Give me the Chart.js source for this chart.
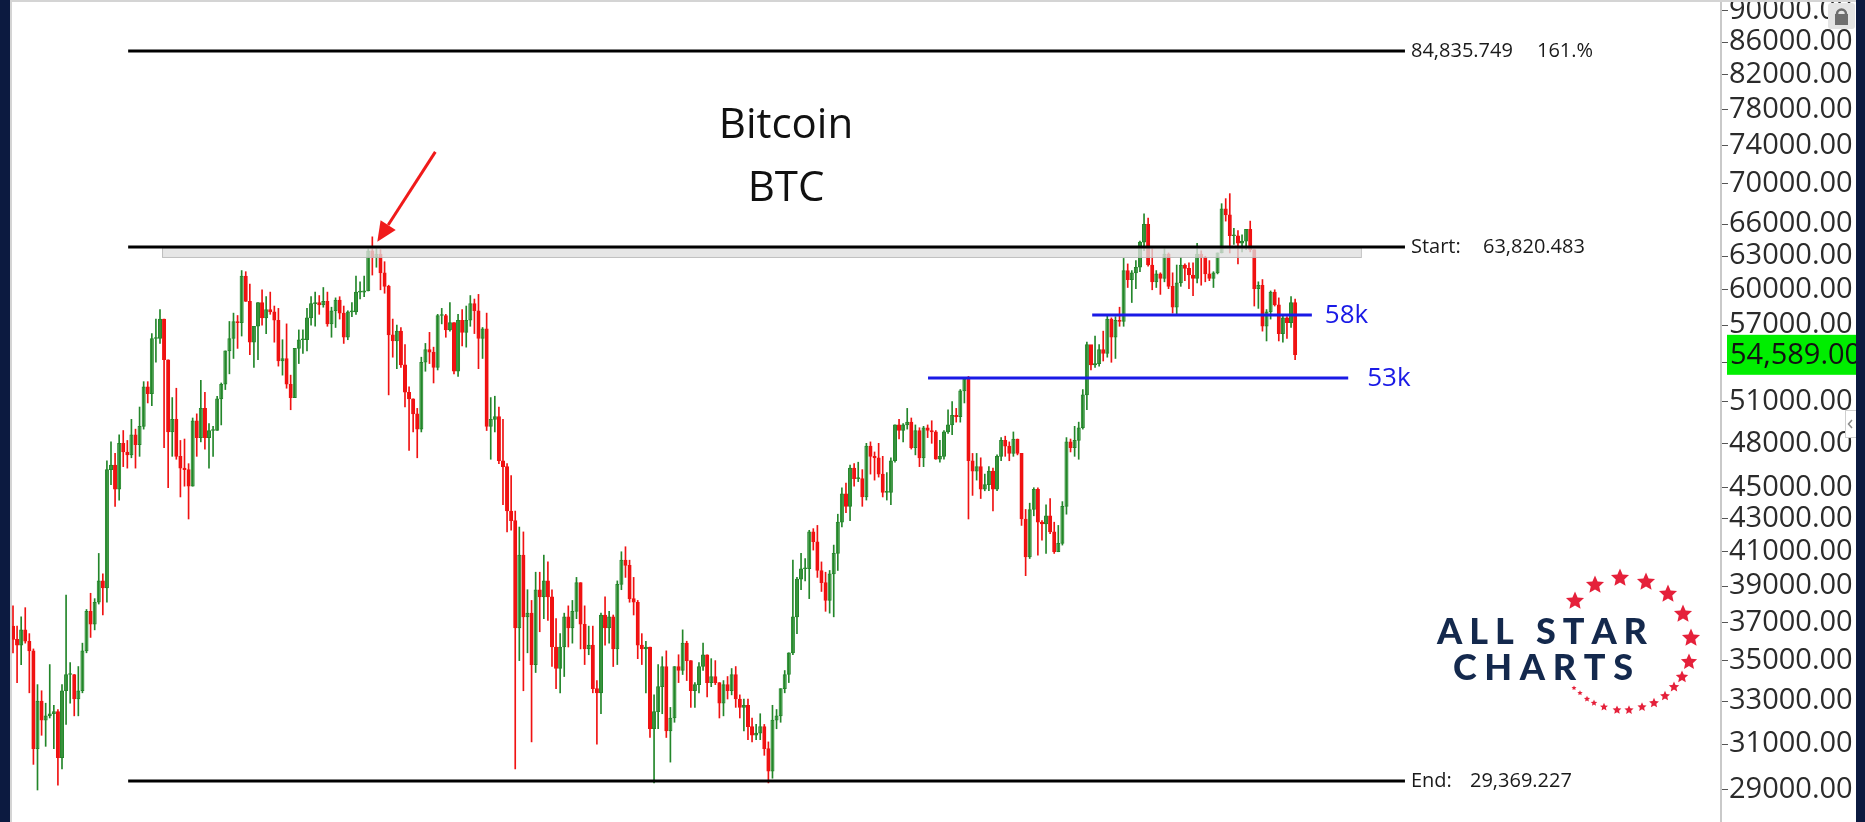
<!DOCTYPE html>
<html>
<head>
<meta charset="utf-8">
<title>Bitcoin BTC</title>
<script src="https://cdn.jsdelivr.net/npm/chart.js@4.4.1/dist/chart.umd.min.js"></script>
<style>
  html, body { margin: 0; padding: 0; background: #fff; overflow: hidden; }
  canvas { display: block; }
</style>
</head>
<body>
<canvas id="btcChart" width="1865" height="822"></canvas>
<script>
// Daily BTC candles, 16 Jan 2021 -> 26 Nov 2021, prices in $ thousands
// (crypto trades 24/7 so each day opens at the previous close)
const firstDate = '2021-01-16';
const firstOpen = 36.8;

const closes = [
    // Jan
    36.1, 35.8, 36.6, 36.0, 35.5, 30.8, 33.0, 32.1, 32.3, 32.4, 32.5, 30.4, 33.5, 34.3, 34.3, 33.1,
    // Feb
    33.5, 35.5, 37.6, 36.9, 38.1, 39.3, 38.9, 46.2, 46.5, 44.9, 48.0, 47.4, 47.2, 48.6, 47.9, 49.2,
    52.1, 51.6, 55.9, 55.9, 57.5, 54.2, 48.8, 49.7, 47.1, 46.3, 46.2, 45.1,
    // Mar
    49.6, 48.4, 50.5, 48.4, 48.9, 48.9, 51.2, 52.3, 54.9, 55.9, 57.3, 57.2, 61.2, 59.0, 55.6, 56.9,
    58.9, 57.6, 58.3, 58.1, 57.4, 54.1, 54.3, 52.3, 51.3, 55.1, 55.8, 55.8, 57.6, 58.8, 58.9,
    // Apr
    58.7, 59.0, 57.1, 58.2, 59.1, 58.0, 56.0, 58.1, 58.1, 59.8, 59.8, 59.9, 63.5, 62.9, 63.2, 61.5,
    60.3, 56.2, 55.7, 56.5, 53.8, 51.7, 51.2, 50.1, 49.0, 54.0, 55.0, 54.8, 53.6, 57.8,
    // May
    57.8, 56.6, 57.2, 53.3, 57.4, 56.4, 57.4, 58.8, 58.2, 55.9, 56.7, 49.2, 49.7, 49.9, 46.8, 46.4,
    43.5, 42.9, 36.7, 40.8, 37.3, 37.5, 34.8, 38.8, 38.4, 39.3, 38.4, 35.7, 34.6, 35.7, 37.3,
    // Jun
    36.7, 37.6, 39.2, 36.9, 35.6, 35.8, 33.6, 33.4, 37.4, 36.7, 37.3, 35.6, 39.1, 40.5, 40.2, 38.3,
    38.1, 35.8, 35.6, 35.7, 31.7, 32.5, 33.7, 34.7, 31.6, 32.2, 34.7, 34.5, 35.9, 35.0,
    // Jul
    33.5, 33.8, 34.7, 35.3, 33.9, 34.2, 33.9, 32.9, 33.8, 33.5, 34.3, 33.1, 32.7, 32.8, 31.8, 31.4,
    31.5, 31.8, 30.8, 29.8, 32.1, 32.3, 33.6, 34.3, 35.4, 37.3, 39.4, 40.0, 40.0, 42.2, 41.6,
    // Aug
    39.9, 39.2, 38.2, 39.7, 40.9, 42.8, 44.6, 43.8, 46.3, 45.6, 45.6, 44.4, 47.8, 47.1, 47.0, 45.9,
    44.7, 44.7, 46.8, 49.3, 48.9, 49.3, 49.5, 47.7, 48.9, 47.0, 49.1, 48.9, 48.8, 46.9, 47.1,
    // Sep
    48.8, 49.3, 50.0, 49.9, 51.8, 52.7, 46.8, 46.1, 46.4, 44.9, 45.2, 46.1, 44.9, 47.1, 48.2, 47.8,
    47.3, 48.3, 47.3, 43.0, 40.7, 43.6, 44.9, 42.8, 42.7, 43.2, 42.2, 41.0, 41.5, 43.8,
    // Oct
    48.1, 47.7, 48.2, 49.1, 51.5, 55.4, 53.8, 53.9, 55.0, 54.7, 57.5, 56.0, 57.4, 57.3, 61.7, 60.9,
    61.5, 62.0, 64.3, 66.0, 62.2, 60.7, 61.4, 61.0, 63.2, 60.3, 58.5, 60.6, 62.2, 61.9, 61.3,
    // Nov
    61.0, 63.2, 62.9, 61.4, 61.0, 61.5, 63.3, 67.5, 66.9, 64.9, 64.9, 64.2, 64.4, 65.5, 63.6, 60.1,
    60.4, 56.9, 58.1, 59.8, 58.7, 56.3, 57.6, 57.2, 58.9, 54.6
];

const highs = [
    37.9, 36.8, 37.3, 37.8, 36.4, 35.6, 33.8, 33.5, 32.9, 34.8, 32.8, 32.6, 33.8, 38.5, 34.9, 34.3,
    34.7, 35.9, 37.7, 38.6, 38.3, 40.9, 39.7, 46.8, 48.1, 47.3, 48.6, 48.9, 48.2, 49.7, 49.0, 50.6,
    52.5, 52.5, 56.3, 57.5, 58.3, 57.5, 54.2, 51.3, 52.0, 48.2, 48.3, 46.6,
    49.8, 50.1, 52.6, 51.7, 49.4, 49.2, 51.4, 52.4, 54.9, 57.3, 58.0, 57.8, 61.7, 61.6, 60.5, 56.9,
    58.9, 60.0, 59.4, 59.8, 58.6, 58.4, 55.8, 57.1, 53.0, 55.1, 56.6, 56.6, 58.4, 59.4, 59.8,
    59.5, 60.2, 59.8, 58.5, 59.3, 59.4, 58.6, 58.2, 58.9, 61.2, 60.7, 61.2, 63.7, 64.8, 63.8, 63.6,
    62.5, 60.4, 57.5, 57.0, 56.8, 55.4, 52.1, 51.2, 50.5, 54.4, 55.5, 56.4, 55.2, 57.9,
    58.4, 57.9, 58.9, 57.2, 57.9, 58.3, 58.6, 59.5, 59.2, 59.6, 56.8, 58.0, 51.3, 51.4, 50.6, 49.7,
    46.6, 45.8, 43.5, 42.5, 42.2, 38.8, 38.2, 39.8, 39.8, 40.8, 40.4, 38.8, 37.2, 36.4, 37.5,
    37.9, 38.2, 39.5, 39.2, 37.9, 36.8, 36.8, 34.0, 37.5, 38.4, 37.6, 37.4, 39.3, 41.0, 41.3, 40.5,
    39.5, 38.2, 36.4, 36.0, 35.7, 33.3, 34.8, 35.2, 35.5, 32.7, 34.7, 35.3, 36.6, 36.0,
    35.0, 33.9, 34.9, 35.9, 35.3, 35.1, 35.0, 33.9, 34.0, 34.2, 34.6, 34.7, 33.3, 33.1, 33.1, 32.2,
    31.9, 32.4, 31.9, 31.1, 32.8, 32.6, 33.6, 34.5, 35.4, 40.5, 39.5, 40.9, 40.6, 42.3, 42.4,
    42.6, 40.4, 39.8, 39.9, 41.4, 43.3, 45.0, 45.3, 46.5, 46.6, 46.7, 46.2, 48.0, 48.1, 47.4, 48.0,
    47.1, 46.0, 47.0, 49.3, 49.7, 49.4, 50.5, 49.8, 49.3, 49.1, 49.2, 49.3, 49.6, 48.9, 48.2,
    48.9, 50.4, 51.0, 50.5, 51.9, 52.8, 52.9, 47.3, 47.3, 47.0, 45.9, 46.4, 46.3, 47.2, 48.4, 48.5,
    48.1, 48.8, 48.3, 47.3, 43.6, 44.0, 45.0, 45.0, 42.9, 43.9, 44.3, 42.8, 42.6, 44.1,
    48.4, 48.3, 49.2, 49.5, 51.9, 55.6, 55.3, 56.1, 55.4, 56.5, 57.8, 57.6, 57.7, 58.5, 62.8, 62.3,
    61.7, 62.6, 64.4, 67.0, 66.6, 63.7, 61.7, 61.5, 63.7, 63.3, 61.5, 62.2, 62.9, 62.3, 62.4,
    62.4, 64.2, 63.5, 63.0, 62.6, 61.6, 63.3, 68.0, 68.5, 69.0, 65.6, 65.4, 65.0, 65.5, 66.3, 63.6,
    60.7, 60.9, 58.3, 59.9, 60.0, 59.3, 57.8, 57.7, 59.4, 59.2
];

const lows = [
    35.4, 33.9, 34.8, 35.9, 33.4, 30.1, 29.0, 31.4, 30.9, 32.2, 30.8, 29.2, 29.9, 31.9, 32.9, 32.3,
    32.3, 33.4, 35.4, 36.2, 36.6, 38.0, 37.4, 38.1, 45.2, 43.8, 44.2, 46.4, 46.3, 47.0, 46.3, 47.1,
    49.0, 50.9, 50.7, 54.0, 55.5, 47.7, 45.0, 47.1, 46.9, 44.4, 45.1, 43.0,
    45.1, 47.1, 48.1, 47.6, 46.3, 47.1, 48.9, 49.3, 51.9, 53.1, 54.3, 55.1, 56.1, 59.0, 54.6, 53.6,
    54.2, 57.0, 56.3, 57.9, 55.6, 53.7, 53.0, 52.0, 50.4, 51.3, 53.9, 54.7, 54.9, 57.0, 56.9,
    57.9, 58.5, 56.9, 56.0, 56.8, 57.5, 55.5, 55.8, 57.7, 57.9, 59.2, 59.4, 59.9, 61.3, 62.0, 60.0,
    59.7, 51.5, 54.4, 53.5, 53.6, 50.6, 47.5, 48.8, 47.0, 48.8, 53.3, 53.9, 52.4, 53.4,
    57.1, 56.0, 56.5, 53.1, 52.9, 55.3, 55.2, 56.9, 56.3, 53.5, 54.3, 48.9, 46.9, 48.8, 46.6, 43.9,
    42.2, 42.3, 29.9, 35.0, 33.5, 35.4, 31.1, 34.4, 36.5, 37.2, 37.1, 34.7, 33.6, 33.4, 34.2,
    35.7, 35.9, 37.2, 35.6, 34.8, 35.3, 33.4, 31.0, 32.4, 35.8, 35.9, 34.7, 34.8, 38.8, 39.5, 38.1,
    37.4, 35.1, 34.8, 33.4, 31.3, 29.3, 31.7, 32.4, 31.3, 30.2, 32.0, 33.9, 34.3, 34.0,
    32.7, 32.7, 33.4, 34.5, 33.2, 33.7, 33.8, 32.2, 32.3, 33.1, 33.3, 32.7, 32.2, 31.6, 31.2, 31.1,
    31.2, 31.2, 30.5, 29.3, 29.5, 31.7, 32.0, 33.4, 33.9, 35.3, 36.4, 38.8, 39.3, 38.3, 41.1,
    39.5, 38.7, 37.6, 37.5, 37.3, 39.9, 42.5, 43.4, 42.9, 45.1, 45.4, 43.8, 44.2, 45.9, 45.5, 45.7,
    44.4, 44.2, 43.9, 46.7, 48.3, 48.1, 49.0, 47.6, 47.2, 46.4, 46.4, 48.4, 48.0, 46.9, 46.7,
    46.9, 48.7, 48.6, 49.5, 49.5, 50.9, 43.0, 44.5, 45.5, 44.3, 44.8, 44.8, 43.5, 44.8, 46.8, 47.1,
    46.8, 47.1, 47.2, 42.6, 39.6, 40.6, 43.2, 40.8, 41.7, 40.9, 42.1, 40.9, 41.0, 41.4,
    43.3, 47.4, 47.1, 46.9, 49.0, 50.4, 53.4, 53.6, 53.7, 54.1, 54.4, 54.0, 54.3, 56.9, 56.9, 60.2,
    58.9, 60.1, 61.6, 63.5, 62.1, 60.0, 60.2, 59.6, 60.7, 60.1, 58.0, 57.8, 60.3, 60.8, 60.1,
    59.5, 60.6, 60.4, 60.7, 60.8, 60.2, 61.4, 63.3, 66.3, 63.3, 64.1, 62.3, 63.4, 63.6, 63.4, 58.6,
    58.4, 56.5, 55.7, 57.5, 58.6, 55.7, 55.6, 55.9, 56.8, 54.2
];

// Fibonacci extension drawn on the chart
const fibLevels = [84835.749, 63820.483, 29369.227];
const fibNames = ['', 'Start:', 'End:'];
const fibPercents = ['161.%', '', ''];

// hand drawn support lines
const supportLevels = [57800, 52800];
const supportLabels = ['58k', '53k'];

// right axis
const priceTicks = [29000, 31000, 33000, 35000, 37000, 39000, 41000, 43000, 45000, 48000, 51000,
    54000, 57000, 60000, 63000, 66000, 70000, 74000, 78000, 82000, 86000, 90000];
const lastPrice = 54589;

// ---- layout (candle index units on x, pixels elsewhere) ----
const X_MIN = -0.49, X_MAX = 418.3;
const Y_MIN = 27682, Y_MAX = 91428;
const FIB_FROM = 28.2, FIB_TO = 340.9;
const FIB_VALUE_GAP = [0, 72, 59];
const BAND_FROM = 36.5, BAND_TO = 330.1, BAND_LOW = 62930;
const SUPPORT_FROM = [264.3, 224.1], SUPPORT_TO = [318.1, 327.0], SUPPORT_LABEL_GAP = [13, 19];
const ARROW_TARGET = 88; // 14 Apr 2021 high

const K = 1000;
const idx = closes.map((_, i) => i);
const opens = idx.map(i => i === 0 ? firstOpen : closes[i - 1]);
const isUp = idx.map(i => closes[i] >= opens[i]);

const UP_LINE = '#23862a';
const UP_FILL = '#97cf97';
const DOWN = '#f01212';
const BLUE = '#1a1ae6';
const FONT = '"Open Sans", "Noto Sans", sans-serif';

const wickData = idx.map(i => ({ x: i, y: [lows[i] * K, highs[i] * K] }));
const bodyData = idx.map(i => ({ x: i, y: [opens[i] * K, closes[i] * K] }));

function drawStar(ctx, cx, cy, r) {
    ctx.beginPath();
    for (let k = 0; k < 10; k++) {
        const rad = k % 2 === 0 ? r : r * 0.47;
        const a = -Math.PI / 2 + k * Math.PI / 5;
        const px = cx + rad * Math.cos(a), py = cy + rad * Math.sin(a);
        if (k === 0) ctx.moveTo(px, py); else ctx.lineTo(px, py);
    }
    ctx.closePath();
    ctx.fill();
}

function spacedText(ctx, text, left, right, baseline) {
    const chars = [...text];
    const widths = chars.map(c => ctx.measureText(c).width);
    const total = widths.reduce((a, b) => a + b, 0);
    const gap = (right - left - total) / (chars.length - 1);
    let x = left;
    chars.forEach((c, k) => { ctx.fillText(c, x, baseline); x += widths[k] + gap; });
}

const overlays = {
    id: 'overlays',
    afterDatasetsDraw(chart) {
        const { ctx, scales: { x, y } } = chart;
        ctx.save();

        // grey zone under the breakout level
        const bx1 = x.getPixelForValue(BAND_FROM), bx2 = x.getPixelForValue(BAND_TO);
        const by1 = y.getPixelForValue(fibLevels[1]), by2 = y.getPixelForValue(BAND_LOW);
        ctx.fillStyle = 'rgba(223,223,223,0.78)';
        ctx.fillRect(bx1, by1, bx2 - bx1, by2 - by1);
        ctx.strokeStyle = 'rgba(185,185,185,0.9)';
        ctx.lineWidth = 1;
        ctx.strokeRect(bx1 + 0.5, by1 + 0.5, bx2 - bx1, by2 - by1);

        // fibonacci lines + labels
        const fx1 = x.getPixelForValue(FIB_FROM), fx2 = x.getPixelForValue(FIB_TO);
        ctx.font = '20px ' + FONT;
        ctx.textBaseline = 'middle';
        ctx.textAlign = 'left';
        fibLevels.forEach((lvl, k) => {
            const py = Math.round(y.getPixelForValue(lvl));
            ctx.strokeStyle = '#000';
            ctx.lineWidth = 3;
            ctx.beginPath();
            ctx.moveTo(fx1, py);
            ctx.lineTo(fx2, py);
            ctx.stroke();
            ctx.fillStyle = '#1a1a1a';
            const tx = fx2 + 6;
            const valueText = lvl.toLocaleString('en-US', { minimumFractionDigits: 3 });
            if (fibNames[k]) ctx.fillText(fibNames[k], tx, py);
            ctx.fillText(valueText, tx + FIB_VALUE_GAP[k], py);
            if (fibPercents[k]) ctx.fillText(fibPercents[k], tx + 126, py);
        });

        // blue support lines
        ctx.font = '26px ' + FONT;
        supportLevels.forEach((lvl, k) => {
            const py = Math.round(y.getPixelForValue(lvl));
            const sx1 = x.getPixelForValue(SUPPORT_FROM[k]), sx2 = x.getPixelForValue(SUPPORT_TO[k]);
            ctx.strokeStyle = BLUE;
            ctx.lineWidth = 3;
            ctx.beginPath();
            ctx.moveTo(sx1, py);
            ctx.lineTo(sx2, py);
            ctx.stroke();
            ctx.fillStyle = BLUE;
            ctx.fillText(supportLabels[k], sx2 + SUPPORT_LABEL_GAP[k], py + 1);
        });

        // red arrow pointing to the April top
        const tipX = x.getPixelForValue(ARROW_TARGET) + 5;
        const tipY = y.getPixelForValue(highs[ARROW_TARGET] * K) + 5;
        const tailX = tipX + 58, tailY = tipY - 90;
        const ang = Math.atan2(tipY - tailY, tipX - tailX);
        const headLen = 20, headW = 9;
        const baseX = tipX - headLen * Math.cos(ang), baseY = tipY - headLen * Math.sin(ang);
        ctx.strokeStyle = '#f01a1a';
        ctx.fillStyle = '#f01a1a';
        ctx.lineWidth = 3;
        ctx.beginPath();
        ctx.moveTo(tailX, tailY);
        ctx.lineTo(baseX, baseY);
        ctx.stroke();
        ctx.beginPath();
        ctx.moveTo(tipX, tipY);
        ctx.lineTo(baseX + headW * Math.sin(ang), baseY - headW * Math.cos(ang));
        ctx.lineTo(baseX - headW * Math.sin(ang), baseY + headW * Math.cos(ang));
        ctx.closePath();
        ctx.fill();

        // title
        ctx.fillStyle = '#111';
        ctx.textAlign = 'center';
        ctx.textBaseline = 'alphabetic';
        ctx.font = '42px ' + FONT;
        ctx.fillText('Bitcoin', 786, 138);
        ctx.fillText('BTC', 786, 201);

        // All Star Charts logo
        ctx.textAlign = 'left';
        ctx.fillStyle = '#14294d';
        ctx.font = '900 36px Lato, "Open Sans", sans-serif';
        spacedText(ctx, 'ALL STAR', 1437, 1647, 644);
        spacedText(ctx, 'CHARTS', 1453, 1633, 680);
        ctx.fillStyle = '#e5203a';
        const stars = [
            [1575, 601, 9.5], [1595, 585, 9.5], [1620, 578, 9.5], [1646, 582, 9.5], [1668, 594, 9.5],
            [1683, 614, 9.5], [1691, 638, 9.5], [1689, 662, 8.5], [1682, 677, 6.5], [1674, 687, 5.5],
            [1665, 696, 5.2], [1654, 703, 5.2], [1642, 707, 4.8], [1629, 710, 4.8], [1617, 710, 4.6],
            [1604, 707, 4.2], [1594, 703, 3.4], [1587, 699, 3.2], [1580, 693, 2.8], [1574, 688, 2.6]
        ];
        stars.forEach(s => drawStar(ctx, s[0], s[1], s[2]));

        ctx.restore();
    },
    afterDraw(chart) {
        const { ctx, scales: { y } } = chart;
        ctx.save();

        // last price flag
        const py = y.getPixelForValue(lastPrice);
        ctx.fillStyle = '#00ee00';
        ctx.fillRect(1727, py - 20, 130, 40);
        ctx.fillStyle = '#111';
        ctx.font = '29px ' + FONT;
        ctx.textBaseline = 'middle';
        ctx.textAlign = 'left';
        ctx.fillText(lastPrice.toLocaleString('en-US', { minimumFractionDigits: 2 }), 1730, py + 1);

        // window chrome
        ctx.fillStyle = '#d4d4d4';
        ctx.fillRect(10, 0, 1846, 2);
        ctx.fillRect(10, 0, 2, 822);

        // lock button
        ctx.fillStyle = '#e4e4e4';
        ctx.beginPath();
        ctx.roundRect(1828, 3, 27, 26, 3);
        ctx.fill();
        ctx.strokeStyle = '#6e6e6e';
        ctx.lineWidth = 2.5;
        ctx.beginPath();
        ctx.arc(1841.5, 14, 4.5, Math.PI, 0);
        ctx.stroke();
        ctx.fillStyle = '#6e6e6e';
        ctx.fillRect(1835, 14, 13, 11);

        // collapse button
        ctx.fillStyle = '#fff';
        ctx.fillRect(1845, 410, 11, 28);
        ctx.strokeStyle = '#cfcfcf';
        ctx.lineWidth = 1;
        ctx.strokeRect(1845.5, 410.5, 11, 27);
        ctx.strokeStyle = '#8a8a8a';
        ctx.lineWidth = 1.5;
        ctx.beginPath();
        ctx.moveTo(1852, 420);
        ctx.lineTo(1848.5, 424);
        ctx.lineTo(1852, 428);
        ctx.stroke();

        // desktop behind the window
        ctx.fillStyle = '#0c1a40';
        ctx.fillRect(0, 0, 10, 822);
        ctx.fillRect(1856, 0, 9, 822);
        ctx.restore();
    }
};

new Chart(document.getElementById('btcChart'), {
    type: 'bar',
    data: {
        datasets: [
            {
                label: 'wick',
                data: wickData,
                backgroundColor: idx.map(i => isUp[i] ? UP_LINE : DOWN),
                borderWidth: 0,
                barThickness: 1,
                grouped: false
            },
            {
                label: 'body',
                data: bodyData,
                backgroundColor: idx.map(i => isUp[i] ? UP_FILL : DOWN),
                borderColor: idx.map(i => isUp[i] ? UP_LINE : DOWN),
                borderWidth: 1,
                borderSkipped: false,
                barThickness: 3.4,
                minBarLength: 1,
                grouped: false
            }
        ]
    },
    options: {
        responsive: false,
        animation: false,
        devicePixelRatio: 1,
        layout: { padding: { left: 11, right: 0, top: 0, bottom: 0 } },
        plugins: { legend: { display: false }, tooltip: { enabled: false } },
        scales: {
            x: { type: 'linear', min: X_MIN, max: X_MAX, display: false, offset: false },
            y: {
                type: 'logarithmic',
                position: 'right',
                min: Y_MIN,
                max: Y_MAX,
                afterBuildTicks: scale => { scale.ticks = priceTicks.map(v => ({ value: v })); },
                afterFit: scale => { scale.width = 144; scale.paddingTop = 0; scale.paddingBottom = 0; },
                grid: { drawOnChartArea: false, drawTicks: true, tickLength: 7, color: '#555', lineWidth: 1 },
                border: { display: true, color: '#c9c9c9', width: 2 },
                ticks: {
                    autoSkip: false,
                    padding: 1,
                    color: '#2b2b2b',
                    font: { family: FONT, size: 29 },
                    callback: v => v === 54000 ? '' : Number(v).toFixed(2)
                }
            }
        }
    },
    plugins: [overlays]
});
</script>
</body>
</html>
